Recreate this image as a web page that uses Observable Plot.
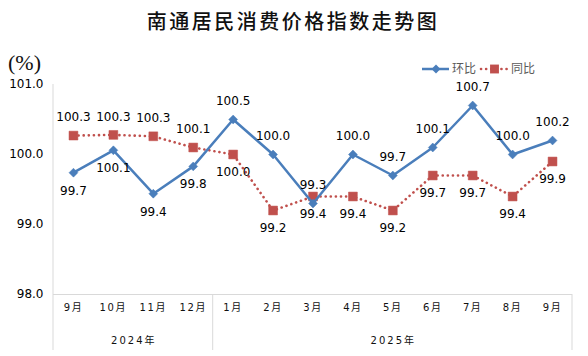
<!DOCTYPE html>
<html><head><meta charset="utf-8">
<script src="https://cdn.jsdelivr.net/npm/d3@7"></script>
<script src="https://cdn.jsdelivr.net/npm/@observablehq/plot@0.6"></script>
<style>
body{margin:0;background:#fff;}
#chart{width:588px;height:356px;}
g[aria-label="x-axis tick label"] text{letter-spacing:1.6px;}
</style></head><body><div id="chart"></div>
<script>
const title = "南通居民消费价格指数走势图";
const unitLabel = "(%)";
const months = ["9月","10月","11月","12月","1月","2月","3月","4月","5月","6月","7月","8月","9月"];
const years = ["2024年","2024年","2024年","2024年","2025年","2025年","2025年","2025年","2025年","2025年","2025年","2025年","2025年"];
const seriesNames = ["环比","同比"];
const monthOnMonth = [99.74,100.06,99.44,99.83,100.5,100.0,99.3,100.0,99.7,100.1,100.7,100.0,100.2];
const yearOnYear = [100.27,100.28,100.26,100.1,100.0,99.2,99.4,99.4,99.2,99.7,99.7,99.4,99.9];
const yTicks = [98,99,100,101];

const blue = "#4A7EBB", red = "#C0504D", grid = "#d9d9d9";
const data = months.map((m,i)=>({i, mom: monthOnMonth[i], yoy: yearOnYear[i]}));
const fontLatin = "DejaVu Sans, Noto Sans CJK SC, sans-serif";

const plot = Plot.plot({
  width:588, height:356,
  marginTop:84, marginLeft:53, marginRight:16, marginBottom:62,
  x:{type:"band", domain:d3.range(months.length), padding:0, round:false, label:null},
  y:{domain:[98,101], label:null},
  style:{fontFamily:fontLatin, fontSize:"12px", color:"#000", background:"#fff", overflow:"visible"},
  marks:[
    Plot.axisY({ticks:yTicks, tickFormat:d=>d.toFixed(1), tickSize:0, tickPadding:10, fontSize:12}),
    Plot.axisX({tickFormat:i=>months[i], tickSize:0, tickPadding:9, fontSize:10, fill:"#111"}),
    Plot.ruleY([98],{stroke:grid, strokeWidth:1}),
    Plot.lineY(data,{x:"i", y:"yoy", stroke:red, strokeWidth:2.6, strokeDasharray:"0.1,5", strokeLinecap:"round"}),
    Plot.dot(data,{x:"i", y:"yoy", symbol:"square", r:5, fill:red, stroke:red, strokeWidth:0.5}),
    Plot.lineY(data,{x:"i", y:"mom", stroke:blue, strokeWidth:2.5}),
    Plot.dot(data,{x:"i", y:"mom", symbol:"diamond2", r:4, fill:blue, stroke:blue, strokeWidth:0.5}),
    Plot.text(data,{filter:d=>d.i<4, x:"i", y:"mom", text:d=>d.mom.toFixed(1), dy:18, fontSize:12}),
    Plot.text(data,{filter:d=>d.i>=4, x:"i", y:"mom", text:d=>d.mom.toFixed(1), dy:-18, fontSize:12}),
    Plot.text(data,{filter:d=>d.i<4, x:"i", y:"yoy", text:d=>d.yoy.toFixed(1), dy:-18, fontSize:12}),
    Plot.text(data,{filter:d=>d.i>=4, x:"i", y:"yoy", text:d=>d.yoy.toFixed(1), dy:18, fontSize:12})
  ]
});

const xs = plot.scale("x"), ys = plot.scale("y");
const bw = xs.bandwidth;
const svg = d3.select(plot);
const x0 = xs.apply(0);
const yTop = ys.apply(101), yBot = ys.apply(98);

// left axis line
svg.append("line").attr("x1",x0).attr("x2",x0).attr("y1",yTop).attr("y2",350).attr("stroke",grid);
// year groups
const groups = d3.groups(months.map((m,i)=>({i, y:years[i]})), d=>d.y);
groups.forEach(([yr, items])=>{
  const a = xs.apply(items[0].i), b = xs.apply(items[items.length-1].i) + bw;
  svg.append("line").attr("x1",b).attr("x2",b).attr("y1",yBot).attr("y2",350).attr("stroke",grid);
  svg.append("text").attr("x",(a+b)/2 + 1).attr("y",340).attr("dy","0.35em")
    .attr("text-anchor","middle").attr("font-size",10).attr("letter-spacing","2px")
    .attr("fill","#111").attr("font-family",fontLatin).text(yr);
});

// title
svg.append("text").attr("x",293).attr("y",22).attr("dy","0.36em").attr("text-anchor","middle")
  .attr("font-family","Noto Sans CJK SC").attr("font-weight",500).attr("font-size",20)
  .attr("letter-spacing","2.5px").attr("fill","#111").text(title);
// unit
svg.append("text").attr("x",8).attr("y",62).attr("dy","0.35em").attr("text-anchor","start")
  .attr("font-family","Liberation Serif, DejaVu Serif, serif").attr("font-size",22)
  .attr("fill","#111").text(unitLabel);

// legend
const lg = svg.append("g").attr("font-family","Noto Sans CJK SC").attr("font-size",12).attr("fill","#595959").attr("text-anchor","start");
const ly = 69;
lg.append("line").attr("x1",422).attr("x2",449).attr("y1",ly).attr("y2",ly).attr("stroke",blue).attr("stroke-width",2.5);
lg.append("path").attr("transform",`translate(436,${ly})`).attr("d",d3.symbol(d3.symbolDiamond2, Math.PI*16)()).attr("fill",blue);
lg.append("text").attr("x",452).attr("y",ly).attr("dy","0.35em").text(seriesNames[0]);
lg.append("line").attr("x1",481).attr("x2",508).attr("y1",ly).attr("y2",ly).attr("stroke",red).attr("stroke-width",2.6)
  .attr("stroke-dasharray","0.1,5").attr("stroke-linecap","round");
lg.append("path").attr("transform",`translate(494.5,${ly})`).attr("d",d3.symbol(d3.symbolSquare, Math.PI*25)()).attr("fill",red);
lg.append("text").attr("x",511).attr("y",ly).attr("dy","0.35em").text(seriesNames[1]);

document.getElementById("chart").append(plot);
</script>
</body></html>
